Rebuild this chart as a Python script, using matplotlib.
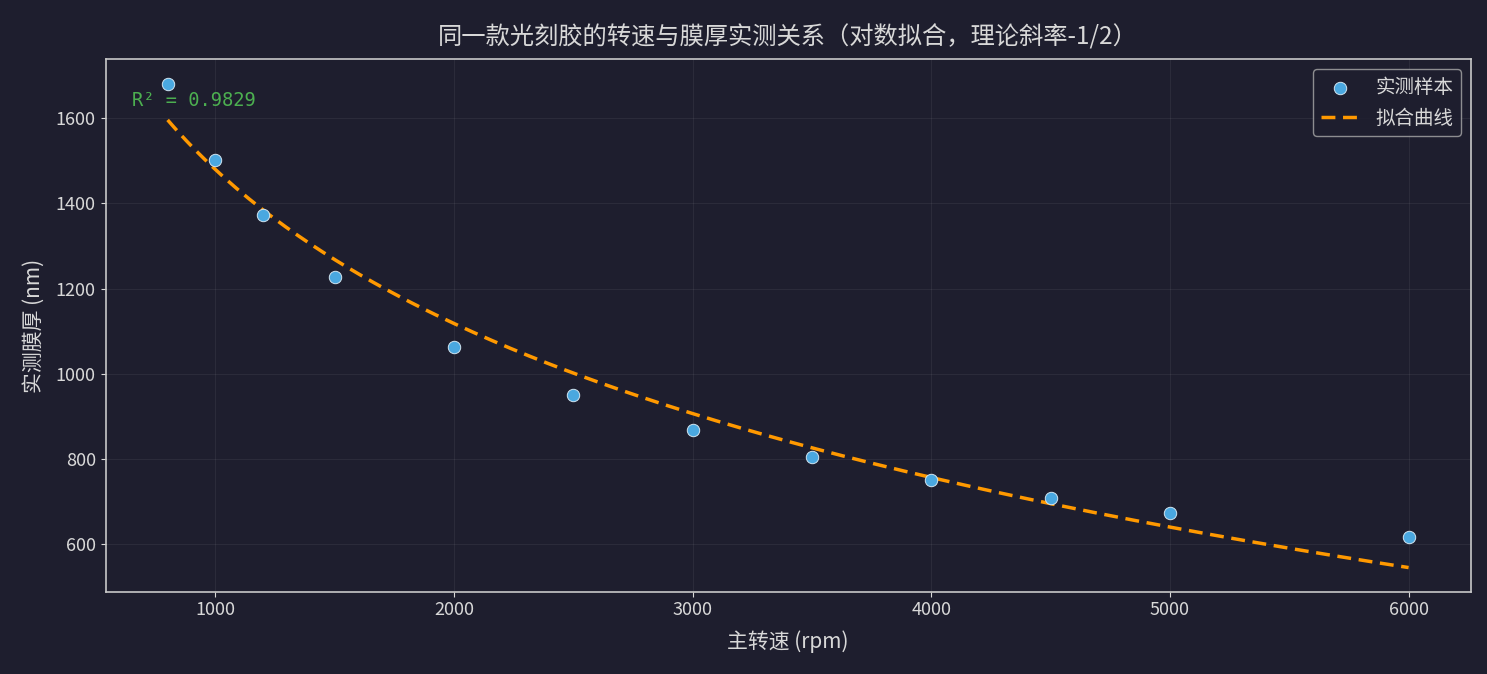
import matplotlib
matplotlib.use("Agg")
import matplotlib.pyplot as plt
import numpy as np

plt.rcParams['font.family'] = ['Noto Sans CJK SC', 'DejaVu Sans']
plt.rcParams['axes.unicode_minus'] = False

# measured samples
speed_rpm = [800, 1000, 1200, 1500, 2000, 2500, 3000, 3500, 4000, 4500, 5000, 6000]
thickness_nm = [1681, 1501, 1373, 1228, 1062, 950, 868, 805, 751, 709, 674, 616]
r2_text = "R² = 0.9829"

bg = "#1e1e2e"
fg = "#d8d8d8"

x = np.array(speed_rpm, dtype=float)
y = np.array(thickness_nm, dtype=float)

# fit y = a*ln(x) + b
a, b = np.polyfit(np.log(x), y, 1)
xf = np.linspace(x.min(), x.max(), 200)
yf = a * np.log(xf) + b

fig, ax = plt.subplots(figsize=(14.87, 6.74), dpi=100)
fig.patch.set_facecolor(bg)
ax.set_facecolor(bg)

ax.scatter(x, y, s=80, color="#4aa8e0", edgecolors="#d0e4f0", linewidths=0.7,
           label="实测样本", zorder=3)
ax.plot(xf, yf, color="#ff9900", lw=2.5, ls="--", dashes=(4, 2.2), label="拟合曲线", zorder=2)

ax.text(0.019, 0.922, r2_text, transform=ax.transAxes, color="#4caf50",
        fontsize=13.5, va="center", family=["DejaVu Sans Mono"])

ax.set_title("同一款光刻胶的转速与膜厚实测关系（对数拟合，理论斜率-1/2）",
             color=fg, fontsize=17.5, pad=11)
ax.set_xlabel("主转速 (rpm)", color=fg, fontsize=15, labelpad=8)
ax.set_ylabel("实测膜厚 (nm)", color=fg, fontsize=15, labelpad=8)

ax.grid(True, color="#ffffff", alpha=0.06, lw=0.8)
ax.tick_params(colors=fg, labelsize=13)
for sp in ax.spines.values():
    sp.set_color("#c8c8c8")
    sp.set_linewidth(1.2)

leg = ax.legend(loc="upper right", facecolor=bg, edgecolor="#aaaaaa", fontsize=14)
for t in leg.get_texts():
    t.set_color(fg)

fig.subplots_adjust(left=0.071, right=0.989, top=0.912, bottom=0.122)
fig.savefig("out.png", dpi=100, facecolor=bg)
